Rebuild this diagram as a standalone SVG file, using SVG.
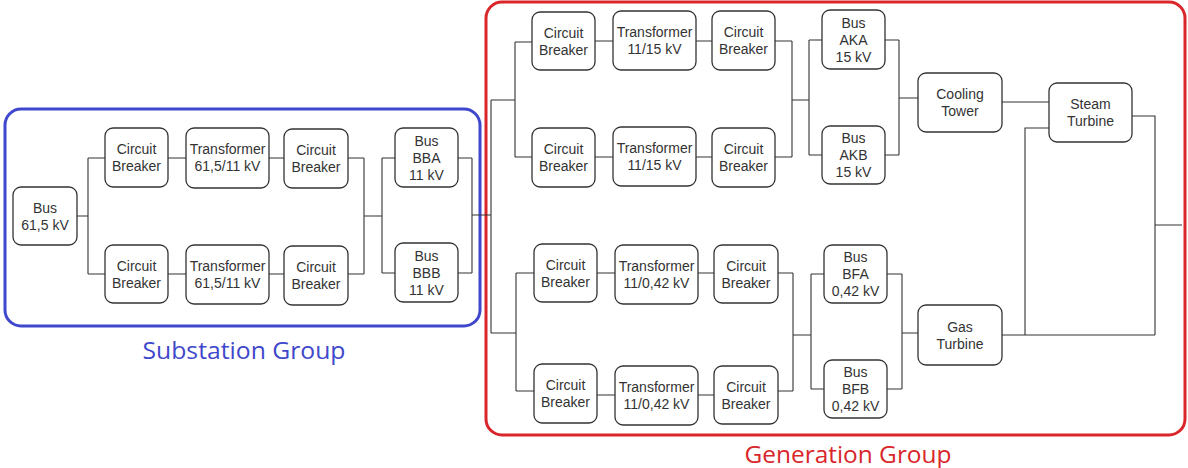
<svg xmlns="http://www.w3.org/2000/svg" width="1188" height="468" viewBox="0 0 1188 468">
  <style>
    .node rect { fill: #ffffff; stroke: #333333; stroke-width: 1.3; }
    .node text { font-family: "Liberation Sans", Arial, sans-serif; font-size: 14px; fill: #333333; text-anchor: middle; }
    .wires path { fill: none; stroke: #333333; stroke-width: 1.1; }
    .grp-label { font-family: "Open Sans", "Liberation Sans", sans-serif; font-size: 23px; text-anchor: middle; }
  </style>

  <rect width="1188" height="468" fill="#ffffff"/>

  <!-- group frames -->
  <g id="substation-group">
    <rect x="5" y="109" width="475" height="217" rx="16" fill="none" stroke="#3f48cc" stroke-width="3"/>
    <text class="grp-label" x="244" y="359" fill="#3f48cc" textLength="203" lengthAdjust="spacingAndGlyphs">Substation Group</text>
  </g>
  <g id="generation-group">
    <rect x="486" y="2" width="699" height="433" rx="16" fill="none" stroke="#d9262b" stroke-width="3"/>
    <text class="grp-label" x="848" y="463" fill="#d9262b" textLength="207" lengthAdjust="spacingAndGlyphs">Generation Group</text>
  </g>

  <!-- connectors -->
  <g id="connectors" class="wires">
    <!-- substation -->
    <path d="M77,216 H88 M88,158 V274 M88,158 H105 M88,274 H105"/>
    <path d="M168,158 H186 M269,158 H284 M348,158 H364"/>
    <path d="M168,274 H186 M269,274 H284 M348,274 H364"/>
    <path d="M364,158 V274 M364,216 H382 M382,158 V273 M382,158 H395 M382,273 H395"/>
    <path d="M458,158 H472 M458,273 H472 M472,158 V273 M472,215 H491"/>
    <!-- generation trunk -->
    <path d="M491,100 V333 M491,100 H515 M491,333 H516"/>
    <!-- 11/15 kV branches -->
    <path d="M515,42 V157 M515,42 H532 M515,157 H532"/>
    <path d="M595,41 H613 M696,41 H712 M775,41 H792 M792,41 V157 M775,157 H792 M595,157 H613 M696,157 H712"/>
    <path d="M792,100 H809 M809,40 V155 M809,40 H822 M809,155 H822"/>
    <path d="M885,40 H899 M885,155 H899 M899,40 V155 M899,98 H918"/>
    <!-- 11/0,42 kV branches -->
    <path d="M516,273 V391 M516,273 H534 M516,391 H534"/>
    <path d="M597,273 H615 M698,273 H714 M778,273 H793 M793,273 V391 M778,391 H793"/>
    <path d="M597,395 H615 M698,395 H714"/>
    <path d="M793,335 H811 M811,274 V389 M811,274 H824 M811,389 H824"/>
    <path d="M887,274 H902 M887,389 H902 M902,274 V389 M902,333 H918"/>
    <!-- turbines and output -->
    <path d="M1002,102 H1049"/>
    <path d="M1049,128 H1025 V335 M1002,335 H1155 M1132,116 H1155 V335 M1155,225 H1182"/>
  </g>

  <!-- substation nodes -->
  <g id="bus-61-5" class="node"><rect x="13" y="187" width="64" height="58" rx="8"/>
    <text x="45" y="212.5">Bus</text><text x="45" y="229.5">61,5 kV</text></g>
  <g id="cb-a1" class="node"><rect x="105" y="128" width="63" height="59" rx="8"/>
    <text x="136.5" y="154">Circuit</text><text x="136.5" y="171">Breaker</text></g>
  <g id="tr-a" class="node"><rect x="186" y="128" width="83" height="60" rx="8"/>
    <text x="227.5" y="154">Transformer</text><text x="227.5" y="171">61,5/11 kV</text></g>
  <g id="cb-a2" class="node"><rect x="284" y="129" width="64" height="59" rx="8"/>
    <text x="316" y="155">Circuit</text><text x="316" y="172">Breaker</text></g>
  <g id="bus-bba" class="node"><rect x="395" y="128" width="63" height="59" rx="8"/>
    <text x="426.5" y="146">Bus</text><text x="426.5" y="163">BBA</text><text x="426.5" y="180">11 kV</text></g>
  <g id="cb-b1" class="node"><rect x="105" y="245" width="63" height="58" rx="8"/>
    <text x="136.5" y="270.5">Circuit</text><text x="136.5" y="287.5">Breaker</text></g>
  <g id="tr-b" class="node"><rect x="186" y="245" width="83" height="59" rx="8"/>
    <text x="227.5" y="270.5">Transformer</text><text x="227.5" y="287.5">61,5/11 kV</text></g>
  <g id="cb-b2" class="node"><rect x="284" y="246" width="64" height="59" rx="8"/>
    <text x="316" y="272">Circuit</text><text x="316" y="289">Breaker</text></g>
  <g id="bus-bbb" class="node"><rect x="395" y="243" width="63" height="59" rx="8"/>
    <text x="426.5" y="261">Bus</text><text x="426.5" y="278">BBB</text><text x="426.5" y="295">11 kV</text></g>

  <!-- generation nodes: 15 kV side -->
  <g id="cb-g1a" class="node"><rect x="532" y="12" width="63" height="58" rx="8"/>
    <text x="563.5" y="37.5">Circuit</text><text x="563.5" y="54.5">Breaker</text></g>
  <g id="tr-g1" class="node"><rect x="613" y="11" width="83" height="59" rx="8"/>
    <text x="654.5" y="37">Transformer</text><text x="654.5" y="54">11/15 kV</text></g>
  <g id="cb-g1b" class="node"><rect x="712" y="11" width="63" height="59" rx="8"/>
    <text x="743.5" y="37">Circuit</text><text x="743.5" y="54">Breaker</text></g>
  <g id="bus-aka" class="node"><rect x="822" y="10" width="63" height="59" rx="8"/>
    <text x="853.5" y="28">Bus</text><text x="853.5" y="45">AKA</text><text x="853.5" y="62">15 kV</text></g>
  <g id="cb-g2a" class="node"><rect x="532" y="128" width="63" height="59" rx="8"/>
    <text x="563.5" y="154">Circuit</text><text x="563.5" y="171">Breaker</text></g>
  <g id="tr-g2" class="node"><rect x="613" y="127" width="83" height="59" rx="8"/>
    <text x="654.5" y="153">Transformer</text><text x="654.5" y="170">11/15 kV</text></g>
  <g id="cb-g2b" class="node"><rect x="712" y="128" width="63" height="59" rx="8"/>
    <text x="743.5" y="154">Circuit</text><text x="743.5" y="171">Breaker</text></g>
  <g id="bus-akb" class="node"><rect x="822" y="126" width="63" height="58" rx="8"/>
    <text x="853.5" y="143">Bus</text><text x="853.5" y="160">AKB</text><text x="853.5" y="177">15 kV</text></g>

  <!-- generation nodes: 0,42 kV side -->
  <g id="cb-g3a" class="node"><rect x="534" y="244" width="63" height="58" rx="8"/>
    <text x="565.5" y="269.5">Circuit</text><text x="565.5" y="286.5">Breaker</text></g>
  <g id="tr-g3" class="node"><rect x="615" y="245" width="83" height="59" rx="8"/>
    <text x="656.5" y="271">Transformer</text><text x="656.5" y="288">11/0,42 kV</text></g>
  <g id="cb-g3b" class="node"><rect x="714" y="245" width="64" height="58" rx="8"/>
    <text x="746" y="270.5">Circuit</text><text x="746" y="287.5">Breaker</text></g>
  <g id="bus-bfa" class="node"><rect x="824" y="245" width="63" height="58" rx="8"/>
    <text x="855.5" y="262">Bus</text><text x="855.5" y="279">BFA</text><text x="855.5" y="296">0,42 kV</text></g>
  <g id="cb-g4a" class="node"><rect x="534" y="364" width="63" height="59" rx="8"/>
    <text x="565.5" y="390">Circuit</text><text x="565.5" y="407">Breaker</text></g>
  <g id="tr-g4" class="node"><rect x="615" y="366" width="83" height="59" rx="8"/>
    <text x="656.5" y="392">Transformer</text><text x="656.5" y="409">11/0,42 kV</text></g>
  <g id="cb-g4b" class="node"><rect x="714" y="366" width="64" height="58" rx="8"/>
    <text x="746" y="391.5">Circuit</text><text x="746" y="408.5">Breaker</text></g>
  <g id="bus-bfb" class="node"><rect x="824" y="360" width="63" height="58" rx="8"/>
    <text x="855.5" y="377">Bus</text><text x="855.5" y="394">BFB</text><text x="855.5" y="411">0,42 kV</text></g>

  <!-- plant units -->
  <g id="cooling-tower" class="node"><rect x="918" y="73" width="84" height="59" rx="8"/>
    <text x="960" y="99">Cooling</text><text x="960" y="116">Tower</text></g>
  <g id="steam-turbine" class="node"><rect x="1049" y="83" width="83" height="59" rx="8"/>
    <text x="1090.5" y="109">Steam</text><text x="1090.5" y="126">Turbine</text></g>
  <g id="gas-turbine" class="node"><rect x="918" y="305" width="84" height="60" rx="8"/>
    <text x="960" y="331.5">Gas</text><text x="960" y="348.5">Turbine</text></g>
</svg>
